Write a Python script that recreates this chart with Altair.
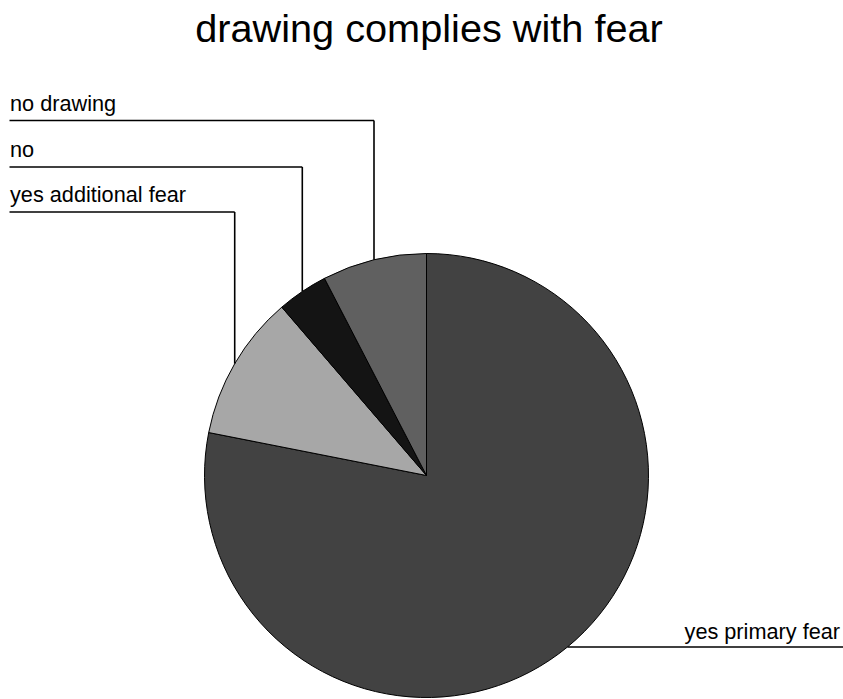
import altair as alt
import pandas as pd

# ---- data (percent of cases) ----
categories = ["yes primary fear", "yes additional fear", "no", "no drawing"]
percentages = [78.1, 10.6, 3.7, 7.6]
slice_order = [1, 2, 3, 4]

# ---- styling / layout ----
slice_colours = ["#424242", "#a7a7a7", "#141414", "#606060"]
label_side = ["right", "left", "left", "left"]
label_line_y = [None, 212, 167, 120.5]   # row of the leader line for left-hand labels

CX, CY, R = 426.5, 475.5, 222
W, H = 843, 699
FONT = "Liberation Sans"

df = pd.DataFrame({
    "category": categories,
    "value": percentages,
    "order": slice_order,
    "side": label_side,
    "liney": [v if v is not None else -1 for v in label_line_y],
})

base = alt.Chart(df)

pie = base.mark_arc(radius=R, stroke="black", strokeWidth=1).encode(
    theta=alt.Theta("value:Q", stack=True),
    color=alt.Color("category:N",
                    scale=alt.Scale(domain=categories, range=slice_colours),
                    legend=None),
    order=alt.Order("order:Q"),
    x=alt.value(CX),
    y=alt.value(CY),
)

geo = (
    base.transform_joinaggregate(total="sum(value)")
    .transform_window(cum="sum(value)", sort=[alt.SortField("order")],
                      frame=[None, 0])
    .transform_calculate(
        mid="2*PI*(datum.cum - datum.value/2)/datum.total",
    )
    .transform_calculate(
        px=f"{CX} + {R}*sin(datum.mid)",
        py=f"{CY} - {R}*cos(datum.mid)",
    )
    .transform_calculate(
        rowy="datum.side == 'left' ? datum.liney : datum.py",
        hx1="datum.side == 'left' ? 9.5 : datum.px",
        hx2=f"datum.side == 'left' ? datum.px : {W}",
    )
    .transform_calculate(
        ty="datum.side == 'left' ? datum.rowy - 10 : datum.rowy - 7.5",
    )
)

px_x = lambda f: alt.X(f, type="quantitative", scale=None, axis=None)
px_y = lambda f: alt.Y(f, type="quantitative", scale=None, axis=None)

hlines = geo.mark_rule(color="black", strokeWidth=1.6).encode(
    x=px_x("hx1"), x2="hx2:Q", y=px_y("rowy"),
)

vlines = geo.transform_filter("datum.side == 'left'").mark_rule(
    color="black", strokeWidth=1.6
).encode(
    x=px_x("px"), y=px_y("rowy"), y2="py:Q",
)

left_text = geo.transform_filter("datum.side == 'left'").transform_calculate(
    tx="10"
).mark_text(align="left", baseline="alphabetic", font=FONT, fontSize=21.7,
            color="black").encode(
    x=px_x("tx"), y=px_y("ty"), text="category:N",
)

right_text = geo.transform_filter("datum.side == 'right'").transform_calculate(
    tx="840"
).mark_text(align="right", baseline="alphabetic", font=FONT, fontSize=21.7,
            color="black").encode(
    x=px_x("tx"), y=px_y("ty"), text="category:N",
)

title = alt.Chart(pd.DataFrame({"t": ["drawing complies with fear"]})).mark_text(
    align="center", baseline="alphabetic", font=FONT, fontSize=39.7, color="black"
).encode(
    x=alt.value(429), y=alt.value(42), text="t:N",
)

chart = alt.layer(pie, hlines, vlines, left_text, right_text, title).properties(
    width=W, height=H, autosize="none", padding=0, background="white",
).configure_view(stroke=None)

chart.save("out.html", embed_options={"renderer": "svg", "actions": False})
